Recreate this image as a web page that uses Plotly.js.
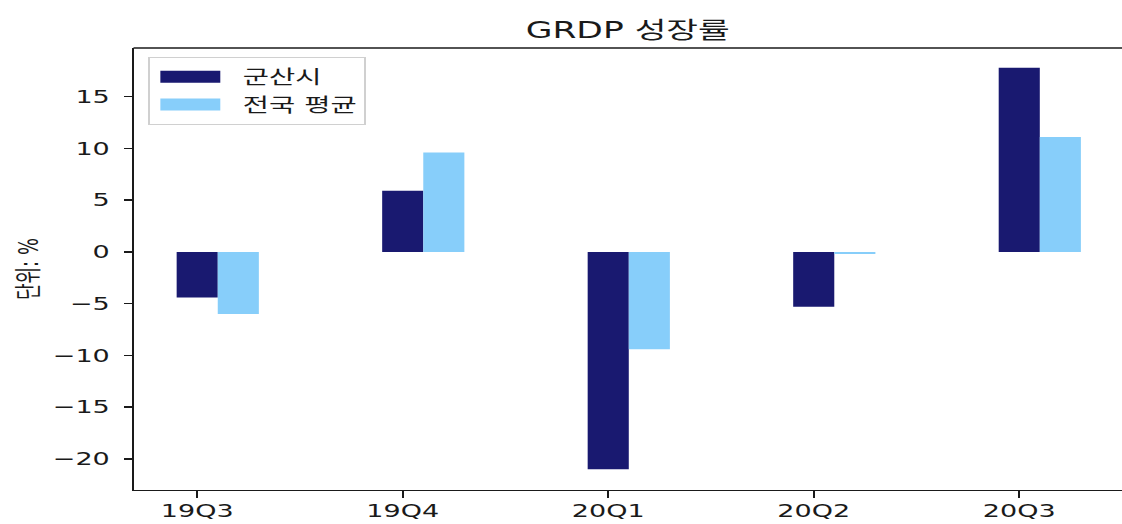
<!DOCTYPE html>
<html>
<head>
<meta charset="utf-8">
<script src="https://cdn.plot.ly/plotly-3.0.1.min.js"></script>
<style>
html,body{margin:0;padding:0;background:#fff;overflow:hidden;}
#wrap{width:1122px;height:524px;overflow:hidden;}
#chart{width:748px;height:524px;transform:scaleX(1.5);transform-origin:0 0;}
</style>
</head>
<body>
<div id="wrap"><div id="chart"></div></div>
<script>
var quarters = ["19Q3", "19Q4", "20Q1", "20Q2", "20Q3"];
var gunsan = [-4.4, 5.9, -21.0, -5.3, 17.8];
var national = [-6.0, 9.6, -9.4, -0.2, 11.1];
var seriesNames = ["군산시", "전국 평균"];
var yTicks = [-20, -15, -10, -5, 0, 5, 10, 15];

var FONT = "DejaVu Sans, 'Noto Sans CJK KR', sans-serif";
var INK = "#1a1a1a";

var traces = [
  {type: "bar", name: seriesNames[0], x: quarters, y: gunsan,
   offset: -0.1, width: 0.2, marker: {color: "#191970", line: {width: 0}}},
  {type: "bar", name: seriesNames[1], x: quarters, y: national,
   offset: 0.1, width: 0.2, marker: {color: "#87CEFA", line: {width: 0}}}
];

var layout = {
  width: 748, height: 524,
  margin: {l: 88.7, r: 0, t: 48, b: 34},
  paper_bgcolor: "#fff", plot_bgcolor: "#fff",
  font: {family: FONT, color: INK, size: 18},
  title: {text: "GRDP 성장률", x: 0.5, xref: "paper", xanchor: "center",
          y: 0.943, yanchor: "middle",
          font: {family: FONT, size: 23, color: INK}},
  barmode: "group",
  showlegend: true,
  legend: {x: 0.015, y: 0.98, xanchor: "left", yanchor: "top",
           bgcolor: "#fff", bordercolor: "#d0d0d0", borderwidth: 1,
           itemwidth: 52,
           font: {family: FONT, size: 19, color: INK}, tracegroupgap: 0},
  xaxis: {type: "category", range: [-0.31, 4.50], showgrid: false, zeroline: false,
          showline: true, linecolor: INK, linewidth: 1.4, mirror: false,
          ticks: "outside", ticklen: 7, tickcolor: INK, tickwidth: 1.2,
          ticklabelstandoff: -3,
          tickfont: {family: FONT, size: 18, color: INK}},
  yaxis: {range: [-23.0, 19.7], tickvals: yTicks, showgrid: false, zeroline: false,
          showline: true, linecolor: INK, linewidth: 1.2, mirror: false,
          ticks: "outside", ticklen: 5, tickcolor: INK, tickwidth: 1.4,
          ticklabelstandoff: 6,
          tickfont: {family: FONT, size: 18, color: INK},
          title: {text: "단위: %", standoff: 4, font: {family: FONT, size: 18, color: INK}}},
  shapes: [{type: "line", xref: "paper", yref: "paper", x0: 0, x1: 1, y0: 1, y1: 1,
            line: {color: INK, width: 1.4}}]
};

Plotly.newPlot("chart", traces, layout, {displayModeBar: false, staticPlot: true}).then(function (gd) {
  // widen the legend swatches to the wide rectangular keys of the reference
  var pts = gd.querySelectorAll(".legend .legendpoints path");
  pts.forEach(function (p) {
    p.setAttribute("transform", "translate(27,0) scale(3.33,1)");
  });
});
</script>
</body>
</html>
